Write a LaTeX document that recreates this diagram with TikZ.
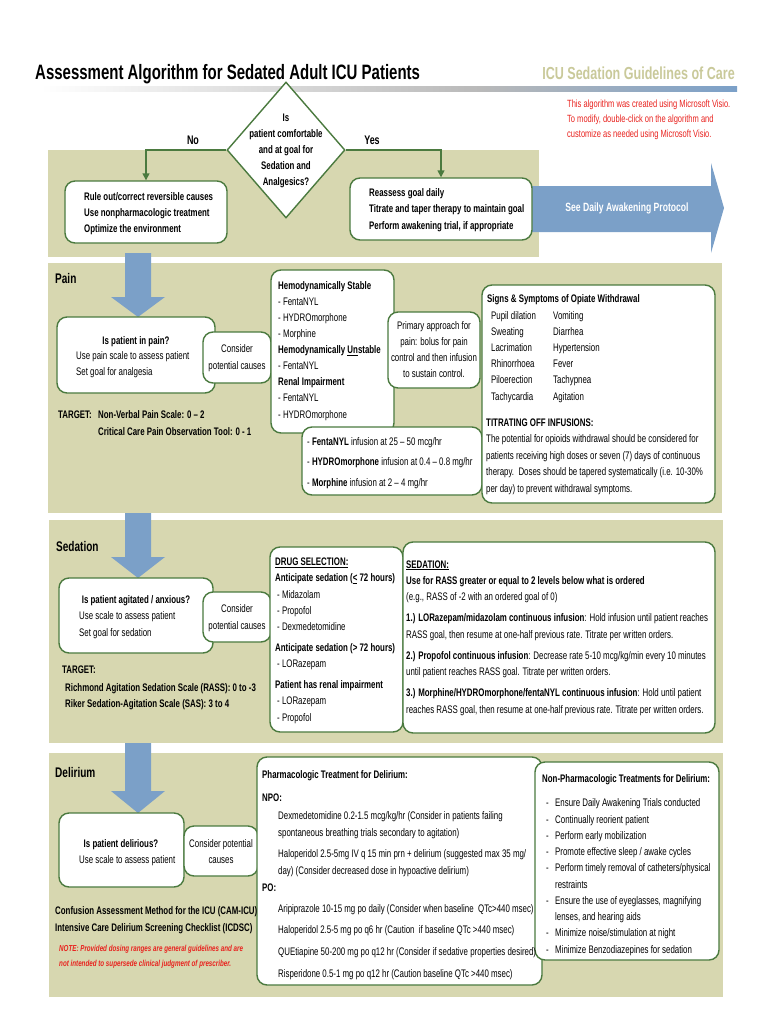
\documentclass[tikz,border=0pt]{standalone}
\usepackage{fontspec}
\setmainfont{Liberation Sans}[FakeStretch=0.72]
\usetikzlibrary{shapes.geometric,arrows.meta}
\definecolor{olivebg}{HTML}{D7D7B0}
\definecolor{boxgreen}{HTML}{4B7A3F}
\definecolor{flowblue}{HTML}{7BA0C8}
\definecolor{khaki}{HTML}{C9C99A}
\definecolor{alertred}{HTML}{E8221E}
\newcommand\txtsize[2]{\fontsize{#1}{#2}\selectfont}

\begin{document}
\begin{tikzpicture}
[x=1bp,y=-1bp,
 bx/.style={draw=boxgreen,line width=1.4bp,rounded corners=10bp,fill=white,inner sep=0},
 dia/.style={diamond,draw=boxgreen,line width=1.4bp,fill=white,inner sep=0,minimum width=118bp,minimum height=136bp},
 link/.style={draw=boxgreen,line width=1.4bp,-{Triangle[length=7bp,width=7bp]}},
 lbl/.style={inner sep=0,anchor=base west,align=left,font=\txtsize{11}{16}},
 ctr/.style={inner sep=0,anchor=base,align=center,font=\txtsize{11}{16}},
 hd/.style={inner sep=0,anchor=base west,font=\bfseries\txtsize{14}{16}}]
\useasboundingbox (0,0) rectangle (770,1024);

% header
\node[inner sep=0,anchor=base west,font=\bfseries\txtsize{20.9}{22}] (title) at (35,79) {Assessment Algorithm for Sedated Adult ICU Patients};
\node[inner sep=0,anchor=base east,text=khaki,font=\bfseries\txtsize{17.5}{20}] (brand) at (735,79) {ICU Sedation Guidelines of Care};
\shade[left color=white,right color=gray!55] (40,86) rectangle (480,91);
\shade[left color=gray!55,right color=flowblue] (480,86) rectangle (737,91);
\node[lbl,text=alertred,font=\txtsize{10.5}{15}] (visio) at (567,137) {This algorithm was created using Microsoft Visio.\\To modify, double-click on the algorithm and\\customize as needed using Microsoft Visio.};

% panels
\fill[olivebg] (48,150) rectangle (539,257);
\fill[olivebg] (48,263) rectangle (722,513);
\fill[olivebg] (49,520) rectangle (723,743);
\fill[olivebg] (49,753) rectangle (723,997);

\fill[flowblue] (530,186) -- (711,186) -- (711,163) -- (724,208) -- (711,253) -- (711,232) -- (530,232) -- cycle;
\node[font=\bfseries\txtsize{12}{14},text=white,inner sep=0] (awake) at (627,208) {See Daily Awakening Protocol};
\foreach \a/\b/\c in {253/297/317,513/557/578,743/791/813}
  \fill[flowblue] (125,\a) -- (151,\a) -- (151,\b) -- (165,\b) -- (138,\c) -- (111,\b) -- (125,\b) -- cycle;

% top decision
\node[dia] (dia) at (286,150) {};
\node[ctr,anchor=center,font=\bfseries\txtsize{11}{16}] (ask) at (286,151) {Is\\patient comfortable\\and at goal for\\Sedation and\\Analgesics?};
\node[font=\bfseries\txtsize{12.5}{14},inner sep=0] (no) at (193,140) {No};
\node[font=\bfseries\txtsize{12.5}{14},inner sep=0] (yes) at (372,140) {Yes};
\node[bx,minimum width=162bp,minimum height=62bp] (rule) at (146,212) {};
\node[bx,minimum width=182bp,minimum height=62bp] (reass) at (441,209) {};
\draw[link] (dia.west) -| (rule.north);
\draw[link] (dia.east) -| (reass.north);
\node[lbl,font=\bfseries\txtsize{11}{16}] (ruletxt) at (84,232) {Rule out/correct reversible causes\\Use nonpharmacologic treatment\\Optimize the environment};
\node[lbl,font=\bfseries\txtsize{11}{16.5}] (reasstxt) at (369,229) {Reassess goal daily\\Titrate and taper therapy to maintain goal\\Perform awakening trial, if appropriate};

% pain
\node[hd] (painhd) at (55,283) {Pain};
\node[bx,minimum width=158bp,minimum height=76bp] (pain) at (136,355) {};
\node[bx,minimum width=68bp,minimum height=51bp] (cons1) at (237,357.5) {};
\node[bx,minimum width=123bp,minimum height=163bp] (opi) at (332.5,351.5) {};
\node[bx,minimum width=92bp,minimum height=76bp] (prim) at (434,350) {};
\node[bx,minimum width=180bp,minimum height=68bp] (infu) at (392,461) {};
\node[bx,minimum width=233bp,minimum height=218bp] (signs) at (598.5,394) {};
\node[ctr,font=\bfseries\txtsize{11}{16}] (paintitle) at (136,344) {Is patient in pain?};
\node[lbl] (paintxt) at (76,375) {Use pain scale to assess patient\\Set goal for analgesia};
\node[ctr,font=\txtsize{11}{17}] (cons1txt) at (237,369) {Consider\\potential causes};
\node[lbl,font=\bfseries\txtsize{11}{17}] (ptarget) at (58,418) {TARGET:};
\node[lbl,font=\bfseries\txtsize{11}{17}] (pscale) at (98,435) {Non-Verbal Pain Scale: 0 -- 2\\Critical Care Pain Observation Tool: 0 - 1};
\node[lbl,font=\txtsize{11}{16.1}] (opitxt) at (278,418) {\textbf{Hemodynamically Stable}\\- FentaNYL\\- HYDROmorphone\\- Morphine\\\textbf{Hemodynamically \underline{Un}stable}\\- FentaNYL\\\textbf{Renal Impairment}\\- FentaNYL\\- HYDROmorphone};
\node[ctr] (primtxt) at (434,377) {Primary approach for\\pain: bolus for pain\\control and then infusion\\to sustain control.};
\node[lbl,font=\txtsize{11}{20.5}] (infutxt) at (307,486) {- \textbf{FentaNYL} infusion at 25 -- 50 mcg/hr\\- \textbf{HYDROmorphone} infusion at 0.4 -- 0.8 mg/hr\\- \textbf{Morphine} infusion at 2 -- 4 mg/hr};
\node[lbl,font=\bfseries\txtsize{11}{16}] (signshd) at (487,302) {Signs \& Symptoms of Opiate Withdrawal};
\node[lbl,font=\txtsize{11}{16.2}] (signstxt) at (491,400) {\makebox[62bp][l]{Pupil dilation}Vomiting\\\makebox[62bp][l]{Sweating}Diarrhea\\\makebox[62bp][l]{Lacrimation}Hypertension\\\makebox[62bp][l]{Rhinorrhoea}Fever\\\makebox[62bp][l]{Piloerection}Tachypnea\\\makebox[62bp][l]{Tachycardia}Agitation};
\node[lbl,font=\bfseries\txtsize{11}{16}] (titrhd) at (486,426) {TITRATING OFF INFUSIONS:};
\node[lbl,font=\txtsize{11}{16.5}] (titrtxt) at (486,492) {The potential for opioids withdrawal should be considered for\\patients receiving high doses or seven (7) days of continuous\\therapy.\ \ Doses should be tapered systematically (i.e. 10-30\%\\per day) to prevent withdrawal symptoms.};

% sedation
\node[hd] (sedhd) at (56,551) {Sedation};
\node[bx,minimum width=154bp,minimum height=75bp] (agit) at (136,615.5) {};
\node[bx,minimum width=68bp,minimum height=50bp] (cons2) at (237,617) {};
\node[bx,minimum width=133bp,minimum height=185bp] (drugsel) at (336.5,639.5) {};
\node[bx,minimum width=312bp,minimum height=191bp] (sedbox) at (559,637.5) {};
\node[ctr,font=\bfseries\txtsize{11}{16}] (agittitle) at (136,603) {Is patient agitated / anxious?};
\node[lbl,font=\txtsize{11}{17}] (agittxt) at (79,636) {Use scale to assess patient\\Set goal for sedation};
\node[ctr,font=\txtsize{11}{17}] (cons2txt) at (237,629) {Consider\\potential causes};
\node[lbl,font=\bfseries\txtsize{11}{16}] (starget) at (62,707) {TARGET:\\[2bp]\hspace{3bp}Richmond Agitation Sedation Scale (RASS): 0 to -3\\\hspace{3bp}Riker Sedation-Agitation Scale (SAS): 3 to 4};
\node[lbl,font=\txtsize{11}{16.2}] (drugtxt) at (275,721) {\textbf{\underline{DRUG SELECTION:}}\\\textbf{Anticipate sedation (\underline{<} 72 hours)}\\\hspace{2bp}- Midazolam\\\hspace{2bp}- Propofol\\\hspace{2bp}- Dexmedetomidine\\[5bp]\textbf{Anticipate sedation (> 72 hours)}\\\hspace{2bp}- LORazepam\\[5bp]\textbf{Patient has renal impairment}\\\hspace{2bp}- LORazepam\\\hspace{2bp}- Propofol};
\node[lbl,font=\txtsize{11}{16.5}] (sedtxt) at (406,713) {\textbf{\underline{SEDATION:}}\\\textbf{Use for RASS greater or equal to 2 levels below what is ordered}\\(e.g., RASS of -2 with an ordered goal of 0)\\[4.5bp]\textbf{1.) LORazepam/midazolam continuous infusion}: Hold infusion until patient reaches\\RASS goal, then resume at one-half previous rate. Titrate per written orders.\\[4.5bp]\textbf{2.) Propofol continuous infusion}: Decrease rate 5-10 mcg/kg/min every 10 minutes\\until patient reaches RASS goal. Titrate per written orders.\\[4.5bp]\textbf{3.) Morphine/HYDROmorphone/fentaNYL continuous infusion}: Hold until patient\\reaches RASS goal, then resume at one-half previous rate. Titrate per written orders.};

% delirium
\node[hd] (delhd) at (55,777) {Delirium};
\node[bx,minimum width=125bp,minimum height=74bp] (delir) at (121.5,850) {};
\node[bx,minimum width=74bp,minimum height=50bp] (cons3) at (221,851) {};
\node[bx,minimum width=285bp,minimum height=228bp] (pharm) at (399.5,871) {};
\node[bx,minimum width=184bp,minimum height=198bp] (nonph) at (627,861) {};
\node[ctr,font=\bfseries\txtsize{11}{16}] (deltitle) at (121,847) {Is patient delirious?};
\node[lbl] (deltxt) at (79,863) {Use scale to assess patient};
\node[ctr] (cons3txt) at (221,863) {Consider potential\\causes};
\node[lbl,font=\bfseries\txtsize{11}{17}] (camtxt) at (55,931) {Confusion Assessment Method for the ICU (CAM-ICU)\\Intensive Care Delirium Screening Checklist (ICDSC)};
\node[lbl,text=alertred,font=\bfseries\itshape\txtsize{8.7}{15}] (note) at (59,966) {NOTE: Provided dosing ranges are general guidelines and are\\not intended to supersede clinical judgment of prescriber.};
\node[lbl,font=\bfseries\txtsize{11}{23}] (pharmhd) at (262,801) {Pharmacologic Treatment for Delirium:\\NPO:};
\node[lbl,font=\txtsize{11}{17}] (npotxt) at (278,874) {Dexmedetomidine 0.2-1.5 mcg/kg/hr (Consider in patients failing\\spontaneous breathing trials secondary to agitation)\\[4bp]Haloperidol 2.5-5mg IV q 15 min prn + delirium (suggested max 35 mg/\\day) (Consider decreased dose in hypoactive delirium)};
\node[lbl,font=\bfseries\txtsize{11}{17}] (pohd) at (262,891) {PO:};
\node[lbl,font=\txtsize{11}{21.7}] (potxt) at (278,977) {Aripiprazole 10-15 mg po daily (Consider when baseline\ \ QTc>440 msec)\\Haloperidol 2.5-5 mg po q6 hr (Caution\ \ if baseline QTc >440 msec)\\QUEtiapine 50-200 mg po q12 hr (Consider if sedative properties desired)\\Risperidone 0.5-1 mg po q12 hr (Caution baseline QTc >440 msec)};
\node[lbl,font=\bfseries\txtsize{11}{16}] (nonphhd) at (542,782) {Non-Pharmacologic Treatments for Delirium:};
\node[lbl,font=\txtsize{11}{16.3}] (nonphtxt) at (546,953) {\makebox[9bp][l]{-}Ensure Daily Awakening Trials conducted\\\makebox[9bp][l]{-}Continually reorient patient\\\makebox[9bp][l]{-}Perform early mobilization\\\makebox[9bp][l]{-}Promote effective sleep / awake cycles\\\makebox[9bp][l]{-}Perform timely removal of catheters/physical\\\hspace{9bp}restraints\\\makebox[9bp][l]{-}Ensure the use of eyeglasses, magnifying\\\hspace{9bp}lenses, and hearing aids\\\makebox[9bp][l]{-}Minimize noise/stimulation at night\\\makebox[9bp][l]{-}Minimize Benzodiazepines for sedation};
\end{tikzpicture}
\end{document}
